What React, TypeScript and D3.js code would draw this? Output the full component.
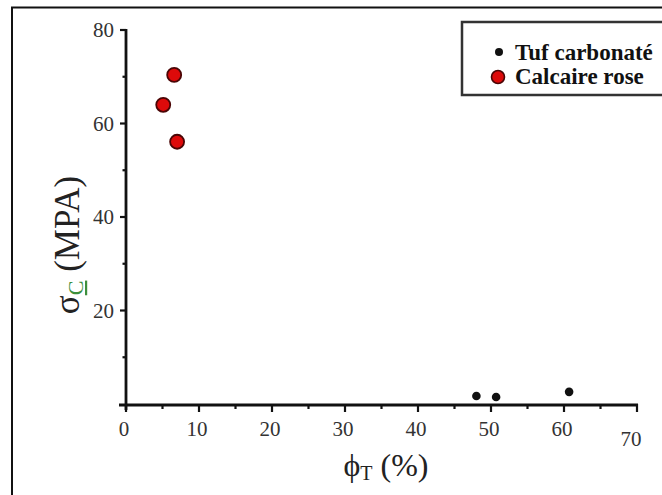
import React from "react";
import * as d3 from "d3";

const tufPorosity = [48.0, 50.7, 60.7];
const tufStrength = [1.7, 1.5, 2.6];
const calcPorosity = [6.6, 5.1, 7.0];
const calcStrength = [70.4, 64.0, 56.1];
const xMajorTicks = [0, 10, 20, 30, 40, 50, 60, 70];
const xMinorTicks = [5, 15, 25, 35, 45, 55, 65];
const yMajorTicks = [20, 40, 60, 80];
const yMinorTicks = [10, 30, 50, 70];
const legendLabels = ["Tuf carbonaté", "Calcaire rose"];

const W = 662;
const H = 495;
const FF = '"Liberation Serif"';

export default function App() {
  const x = d3.scaleLinear().domain([0, 70]).range([126, 637]);
  const y = d3.scaleLinear().domain([0, 80]).range([404, 30]);
  const x0 = x(0);
  const y0 = y(0);

  return (
    <svg width={W} height={H} style={{ position: "absolute", left: 0, top: 0, background: "#fff" }}>
      <style>{`text, tspan { font-family: "Liberation Serif" !important; }`}</style>
      <rect x={0} y={0} width={W} height={H} fill="#fff" />
      <rect x={12} y={7.5} width={700} height={540} fill="none" stroke="#111" strokeWidth={2} />

      <line x1={x0} x2={x0} y1={y(80) - 1} y2={y0 + 6} stroke="#111" strokeWidth={2.8} />
      {yMajorTicks.map((t) => (
        <g key={"ym" + t}>
          <line x1={x0 - 6} x2={x0} y1={y(t)} y2={y(t)} stroke="#111" strokeWidth={2.2} />
          <text x={x0 - 12} y={y(t) + 7} textAnchor="end" fontSize={21} fill="#333" fontFamily={FF}>
            {String(t)}
          </text>
        </g>
      ))}
      {yMinorTicks.map((t) => (
        <line key={"yn" + t} x1={x0 - 3.5} x2={x0} y1={y(t)} y2={y(t)} stroke="#111" strokeWidth={2.2} />
      ))}

      <line x1={x0 - 7} x2={x(70) + 1} y1={y0 + 1} y2={y0 + 1} stroke="#111" strokeWidth={2.8} />
      {xMajorTicks.map((t) => (
        <g key={"xm" + t}>
          <line x1={x(t)} x2={x(t)} y1={y0} y2={y0 + 8} stroke="#111" strokeWidth={2.2} />
          <text x={x(t) - (t === 70 ? 6 : 2)} y={t === 70 ? 446 : 436} textAnchor="middle" fontSize={21} fill="#333" fontFamily={FF}>
            {String(t)}
          </text>
        </g>
      ))}
      {xMinorTicks.map((t) => (
        <line key={"xn" + t} x1={x(t)} x2={x(t)} y1={y0} y2={y0 + 5} stroke="#111" strokeWidth={2.2} />
      ))}

      <text x={386} y={476} textAnchor="middle" fontSize={32} fill="#222" fontFamily={FF}>
        {"\u03D5"}
        <tspan fontSize={20} dy={4}>T</tspan>
        <tspan dy={-4}>{" (%)"}</tspan>
      </text>

      <text transform={`translate(79,245) rotate(-90)`} textAnchor="middle" fontSize={35} fill="#222" fontFamily={FF}>
        {"\u03C3"}
        <tspan fontSize={22} dy={4} fill="#3c8f3c" style={{ textDecoration: "underline wavy #4caf50" }}>
          C
        </tspan>
        <tspan dy={-4}>{" (MPA)"}</tspan>
      </text>

      {calcPorosity.map((p, i) => (
        <circle key={"c" + i} cx={x(p)} cy={y(calcStrength[i])} r={7} fill="#dd0a0a" stroke="#4a0505" strokeWidth={1.8} />
      ))}
      {tufPorosity.map((p, i) => (
        <circle key={"t" + i} cx={x(p)} cy={y(tufStrength[i])} r={4.3} fill="#111" />
      ))}

      <rect x={462} y={22} width={240} height={73} fill="#fff" stroke="#333" strokeWidth={2.5} />
      <circle cx={499} cy={52} r={4} fill="#111" />
      <text x={515} y={60} fontSize={23} fontWeight="bold" fill="#111" fontFamily={FF}>
        {legendLabels[0]}
      </text>
      <circle cx={498} cy={77} r={6.5} fill="#dd0a0a" stroke="#4a0505" strokeWidth={1.6} />
      <text x={515} y={84} fontSize={23} fontWeight="bold" fill="#111" fontFamily={FF}>
        {legendLabels[1]}
      </text>
    </svg>
  );
}
